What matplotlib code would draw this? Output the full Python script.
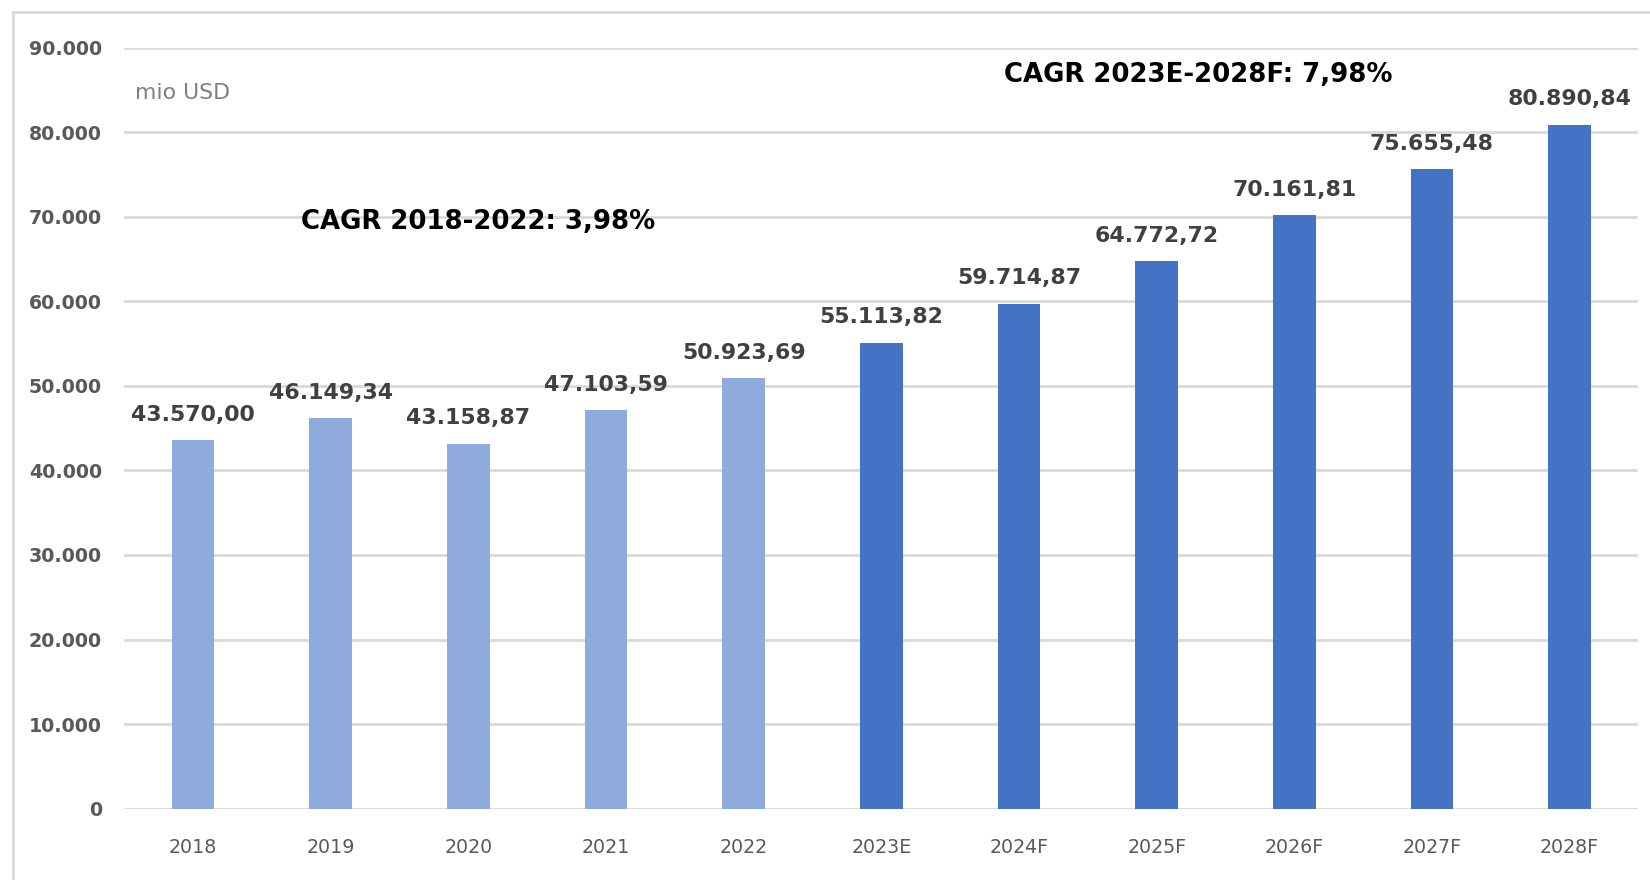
import matplotlib
matplotlib.use("Agg")
import matplotlib.pyplot as plt
from matplotlib import font_manager
from matplotlib.patches import Rectangle

# data
years = ["2018", "2019", "2020", "2021", "2022",
         "2023E", "2024F", "2025F", "2026F", "2027F", "2028F"]
values = [43570.00, 46149.34, 43158.87, 47103.59, 50923.69,
          55113.82, 59714.87, 64772.72, 70161.81, 75655.48, 80890.84]
labels = ["43.570,00", "46.149,34", "43.158,87", "47.103,59", "50.923,69",
          "55.113,82", "59.714,87", "64.772,72", "70.161,81", "75.655,48", "80.890,84"]
n_hist = 5
yticks = [0, 10000, 20000, 30000, 40000, 50000, 60000, 70000, 80000, 90000]
ytick_labels = ["0", "10.000", "20.000", "30.000", "40.000", "50.000",
                "60.000", "70.000", "80.000", "90.000"]
unit = "mio USD"
cagr_hist = "CAGR 2018-2022: 3,98%"
cagr_fcst = "CAGR 2023E-2028F: 7,98%"

# pick a narrow font if there is one, otherwise shrink DejaVu
names = {f.name for f in font_manager.fontManager.ttflist}
if "Liberation Sans Narrow" in names:
    font = "Liberation Sans Narrow"
    k = 1.0
else:
    font = "DejaVu Sans"
    k = 0.72
plt.rcParams["font.family"] = [font, "DejaVu Sans"]

light = "#8FAADC"
dark = "#4472C4"
colors = [light] * n_hist + [dark] * (len(years) - n_hist)

fig = plt.figure(figsize=(16.5, 8.8), dpi=100)
ax = fig.add_axes([0.0753, 0.081, 0.9177, 0.865])

x = list(range(len(years)))
bars = ax.bar(x, values, width=0.31, color=colors, zorder=3)

for xi, v, lab in zip(x, values, labels):
    ax.annotate(lab, (xi, v), xytext=(0, 11), textcoords="offset points",
                ha="center", va="bottom", fontsize=22 * k, fontweight="bold",
                color="#404040", zorder=4)

ax.set_xlim(-0.5, len(years) - 0.5)
ax.set_ylim(0, 90000)
ax.set_yticks(yticks)
ax.set_yticklabels(ytick_labels, fontsize=19 * k, fontweight="bold", color="#595959")
ax.set_xticks(x)
ax.set_xticklabels(years, fontsize=19 * k, color="#595959")
ax.tick_params(axis="both", length=0)
ax.tick_params(axis="y", pad=16)
ax.tick_params(axis="x", pad=21)
ax.grid(axis="y", color="#D9D9D9", linewidth=2, zorder=0)
for s in ax.spines.values():
    s.set_visible(False)

ax.text(-0.42, 84600, unit, ha="left", va="center", fontsize=22 * k, color="#7F7F7F")
ax.text(2.07, 69400, cagr_hist, ha="center", va="center", fontsize=26 * k,
        fontweight="bold", color="black")
ax.text(7.30, 86700, cagr_fcst, ha="center", va="center", fontsize=26 * k,
        fontweight="bold", color="black")

# chart frame
fig.patches.append(Rectangle((0.008, -0.02), 1.0, 1.006, transform=fig.transFigure,
                             fill=False, edgecolor="#D9D9D9", linewidth=2))

fig.savefig("out.png", dpi=100)
